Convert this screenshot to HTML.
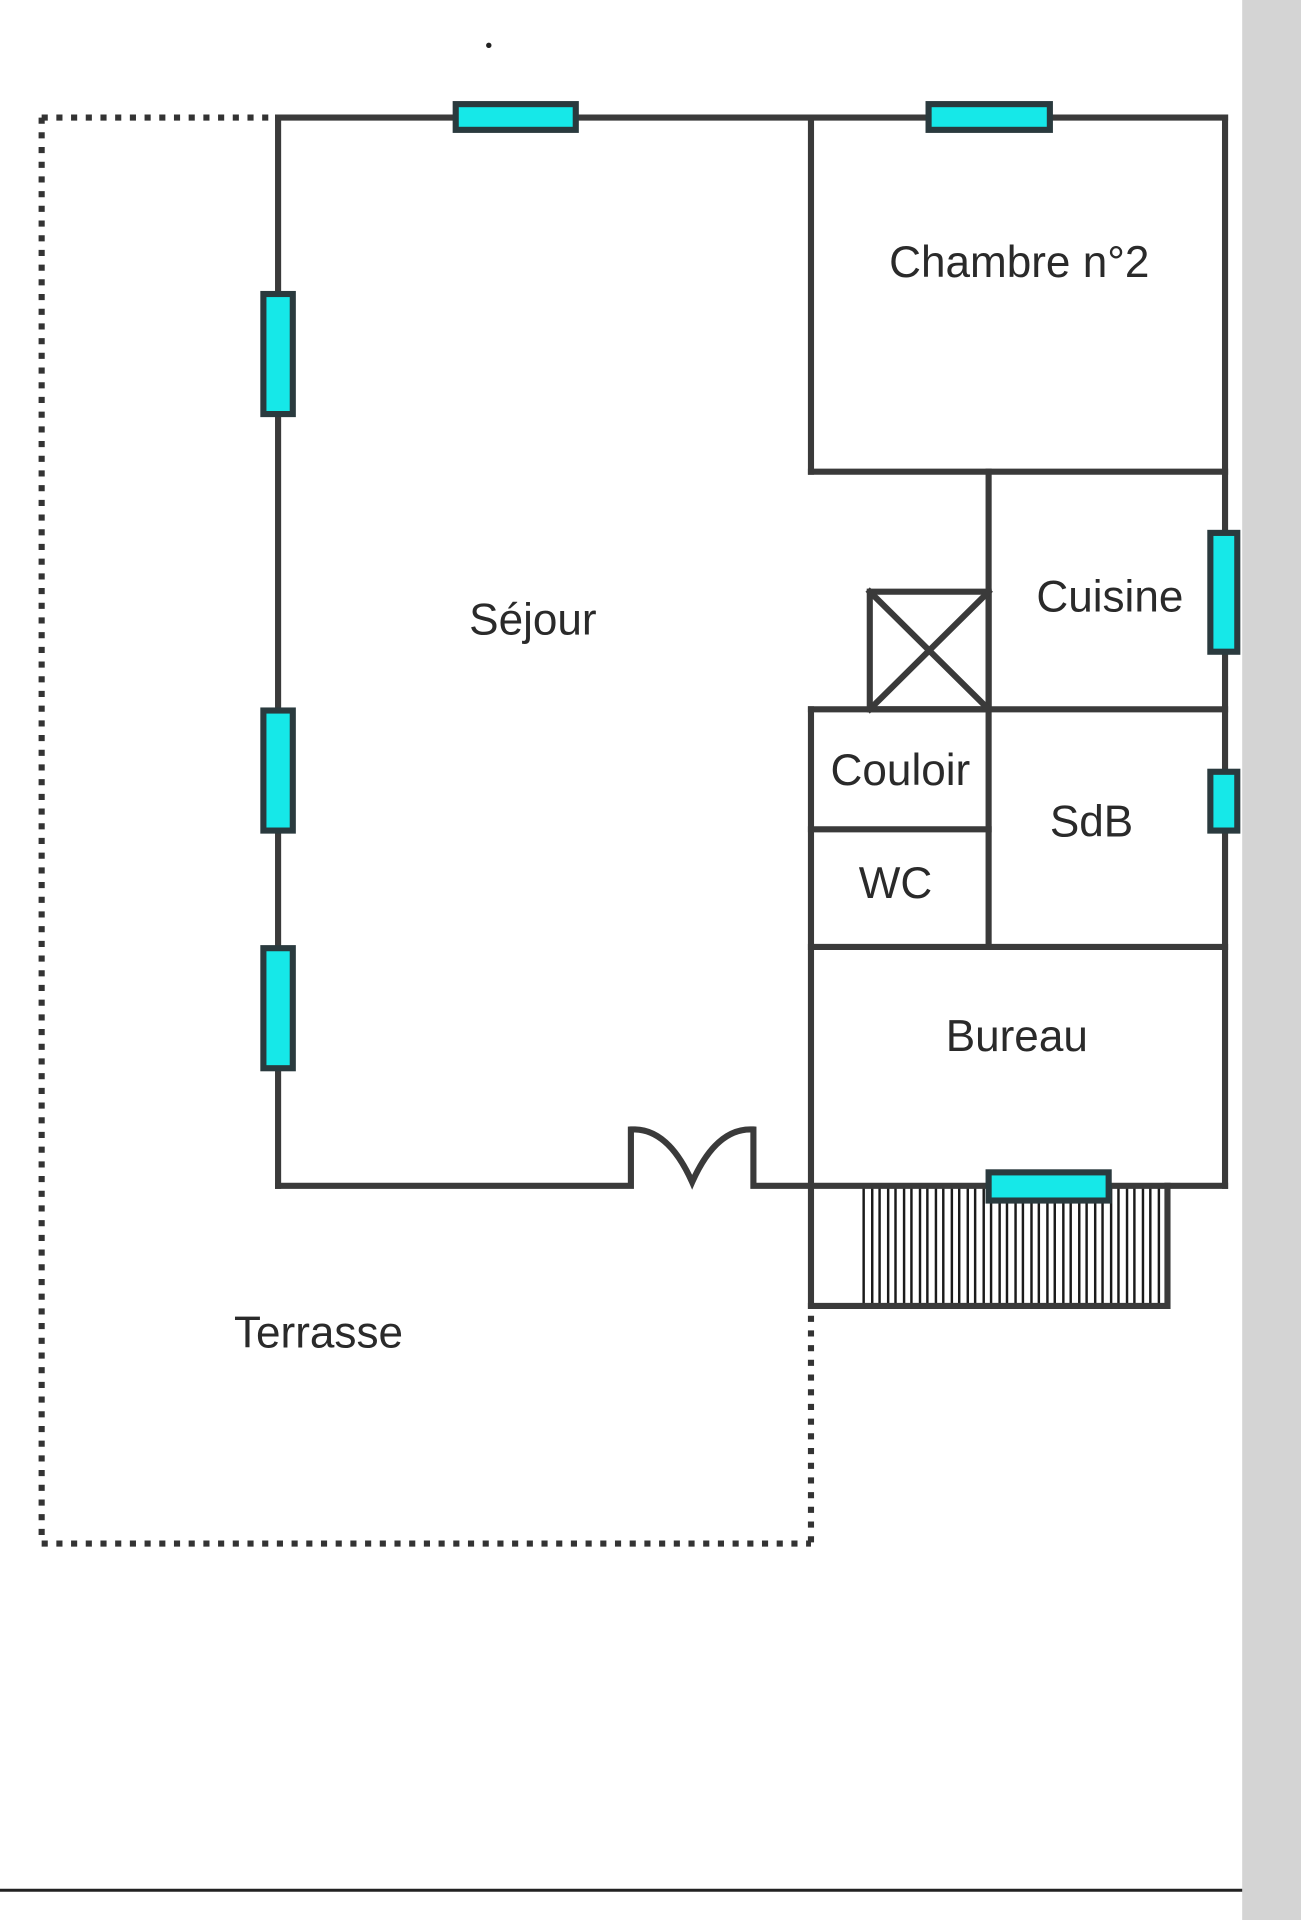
<!DOCTYPE html>
<html><head><style>html,body{margin:0;padding:0;background:#fff}svg{display:block}</style></head>
<body>
<svg width="1301" height="1920" viewBox="0 0 1062 1567.3" preserveAspectRatio="none" xmlns="http://www.w3.org/2000/svg">
<rect x="1014" y="0" width="48" height="1568" fill="#d4d4d4"/>
<line x1="0" y1="1543" x2="1014" y2="1543" stroke="#222" stroke-width="2.5"/>
<circle cx="399" cy="37" r="2.2" fill="#222"/>
<g stroke="#333" stroke-width="5" stroke-dasharray="5 7" fill="none">
<line x1="34" y1="96" x2="227" y2="96"/>
<line x1="34" y1="96" x2="34" y2="1260"/>
<line x1="34" y1="1260" x2="662" y2="1260"/>
<line x1="662" y1="1074" x2="662" y2="1260"/>
</g>
<g stroke="#1a1a1a" stroke-width="2">
<path d="M705 970V1064M712 970V1064M718 970V1064M725 970V1064M731 970V1064M738 970V1064M744 970V1064M751 970V1064M757 970V1064M764 970V1064M770 970V1064M777 970V1064M783 970V1064M790 970V1064M796 970V1064M803 970V1064M809 970V1064M816 970V1064M822 970V1064M829 970V1064M835 970V1064M842 970V1064M848 970V1064M855 970V1064M861 970V1064M868 970V1064M874 970V1064M881 970V1064M887 970V1064M894 970V1064M900 970V1064M907 970V1064M913 970V1064M920 970V1064M926 970V1064M933 970V1064M939 970V1064M946 970V1064"/>
</g>
<g stroke="#3a3a3a" stroke-width="5" fill="none" stroke-linecap="square">
<line x1="227" y1="96" x2="1000" y2="96"/>
<line x1="227" y1="96" x2="227" y2="968"/>
<line x1="1000" y1="96" x2="1000" y2="968"/>
<path d="M227 968H515V922Q545 920 565 965Q585 920 615 922V968H1000"/>
<line x1="662" y1="96" x2="662" y2="385"/>
<line x1="662" y1="385" x2="1000" y2="385"/>
<line x1="807" y1="385" x2="807" y2="773"/>
<line x1="662" y1="579" x2="1000" y2="579"/>
<rect x="710" y="483" width="97" height="96"/>
<line x1="710" y1="483" x2="807" y2="579"/>
<line x1="807" y1="483" x2="710" y2="579"/>
<line x1="662" y1="579" x2="662" y2="1066"/>
<line x1="662" y1="677" x2="807" y2="677"/>
<line x1="662" y1="773" x2="1000" y2="773"/>
<path d="M662 1066H953V968"/>
</g>
<g fill="#16e8e8" stroke="#2a3a3e" stroke-width="5">
<rect x="372" y="85" width="98" height="21"/>
<rect x="758" y="85" width="99" height="21"/>
<rect x="215" y="240" width="24" height="98"/>
<rect x="215" y="580" width="24" height="98"/>
<rect x="215" y="774" width="24" height="98"/>
<rect x="988" y="435" width="22" height="97"/>
<rect x="988" y="630" width="22" height="48"/>
<rect x="807" y="957" width="98" height="23"/>
</g>
<g font-family="Liberation Sans, sans-serif" font-size="36" fill="#2a2a2a" text-anchor="middle">
<text x="832" y="226">Chambre n°2</text>
<text x="435" y="518">Séjour</text>
<text x="906" y="499">Cuisine</text>
<text x="735" y="641">Couloir</text>
<text x="891" y="683">SdB</text>
<text x="731" y="733">WC</text>
<text x="830" y="858">Bureau</text>
<text x="260" y="1100">Terrasse</text>
</g>
</svg>
</body></html>
